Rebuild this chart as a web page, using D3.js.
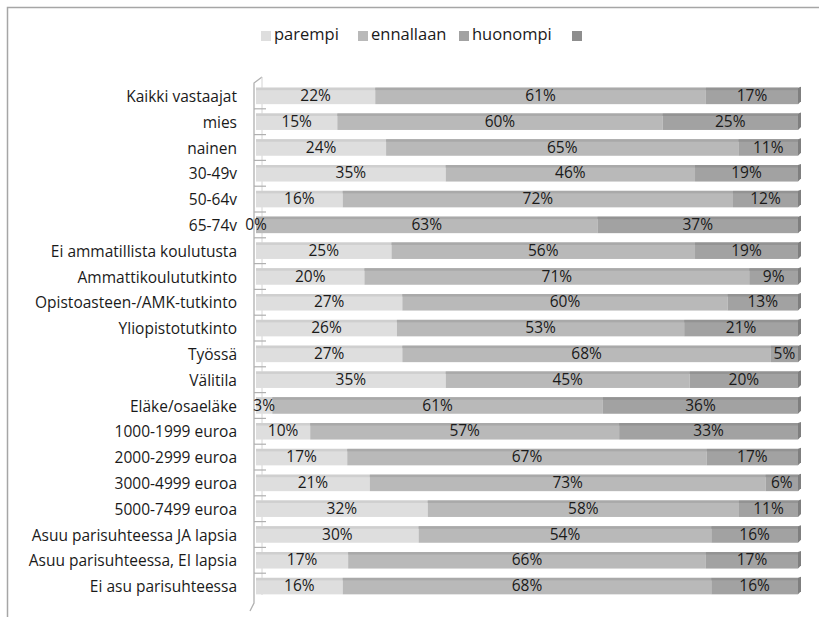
<!DOCTYPE html>
<html><head><meta charset="utf-8">
<script src="https://cdn.jsdelivr.net/npm/d3@7"></script>
<style>body{margin:0;background:#fff}svg{display:block}text{font-family:"Open Sans",sans-serif}</style>
</head><body><svg id="c" width="819" height="617"></svg>
<script>
const categories = ["Kaikki vastaajat","mies","nainen","30-49v","50-64v","65-74v","Ei ammatillista koulutusta","Ammattikoulututkinto","Opistoasteen-/AMK-tutkinto","Yliopistotutkinto","Työssä","Välitila","Eläke/osaeläke","1000-1999 euroa","2000-2999 euroa","3000-4999 euroa","5000-7499 euroa","Asuu parisuhteessa JA lapsia","Asuu parisuhteessa, EI lapsia","Ei asu parisuhteessa"];
const parempi  = [22,15,24,35,16,0,25,20,27,26,27,35,3,10,17,21,32,30,17,16];
const ennallaan= [61,60,65,46,72,63,56,71,60,53,68,45,61,57,67,73,58,54,66,68];
const huonompi = [17,25,11,19,12,37,19,9,13,21,5,20,36,33,17,6,11,16,17,16];
const seriesNames = ["parempi","ennallaan","huonompi",""];
const colors = ["#dedede","#b9b9b9","#a2a2a2","#8e8e8e"];
const topColors = ["#cfcfcf","#a9a9a9","#939393"];
const FS = 15.5;

const svg = d3.select("#c");
svg.append("rect").attr("x",7.5).attr("y",7.5).attr("width",830).attr("height",630)
  .attr("fill","none").attr("stroke","#a6a6a6").attr("stroke-width",1.5);

const x = d3.scaleLinear().domain([0,1]).range([256,798]);
const y = d3.scaleBand().domain(categories).range([83,599]).paddingInner(0.36).paddingOuter(0.18);

const rows = categories.map((c,i)=>{
  const vals=[parempi[i],ennallaan[i],huonompi[i]];
  const tot=d3.sum(vals);
  let acc=0;
  return vals.map((v,k)=>{const s={cat:c,k,v,x0:acc/tot,x1:(acc+v)/tot};acc+=v;return s;});
});

const wall = svg.append("g").attr("stroke","#b0b0b0").attr("fill","none");
const step = y.step();
const top0 = y(categories[0]) - (step - y.bandwidth())/2;
const bot0 = y(categories[categories.length-1]) + y.bandwidth() + (step - y.bandwidth())/2;
wall.append("path").attr("d",`M262,${top0-6} L254,${top0} L254,${bot0+4} L250,${bot0+12}`).attr("stroke-width",1.3);
wall.append("path").attr("d",`M262,${top0-6} L262,${bot0-4}`).attr("stroke","#d4d4d4");
categories.forEach((c,i)=>{
  const yb = y(c) - (step - y.bandwidth())/2;
  if(i>0) wall.append("path").attr("d",`M254,${yb} L266,${yb}`).attr("stroke-width",1.2);
});

const g = svg.append("g");
rows.forEach(segs=>{
  segs.forEach(s=>{
    if(s.v<=0) return;
    const yy=y(s.cat), h=y.bandwidth();
    g.append("rect").attr("x",x(s.x0)).attr("y",yy).attr("width",x(s.x1)-x(s.x0)).attr("height",h).attr("fill",colors[s.k]);
    g.append("rect").attr("x",x(s.x0)).attr("y",yy).attr("width",x(s.x1)-x(s.x0)).attr("height",2.5).attr("fill",topColors[s.k]);
  });
  const yy=y(segs[0].cat), h=y.bandwidth();
  g.append("path").attr("d",`M${x(1)},${yy} L${x(1)+3},${yy-1} L${x(1)+3},${yy+h-3} L${x(1)},${yy+h}Z`).attr("fill","#7f7f7f");
  segs.forEach(s=>{
    g.append("text").attr("x",(x(s.x0)+x(s.x1))/2).attr("y",y(s.cat)+y.bandwidth()/2+1)
      .attr("text-anchor","middle").attr("dominant-baseline","middle").attr("font-size",FS).attr("fill","#1a1a1a")
      .text(s.v+"%");
  });
});

svg.append("g").selectAll("text").data(categories).join("text")
  .attr("x",237).attr("y",d=>y(d)+y.bandwidth()/2+2).attr("text-anchor","end").attr("dominant-baseline","middle")
  .attr("font-size",FS).attr("fill","#1a1a1a").text(d=>d);

const lx=[261,358,459,572];
const leg = svg.append("g");
seriesNames.forEach((n,i)=>{
  leg.append("rect").attr("x",lx[i]).attr("y",31).attr("width",10).attr("height",10).attr("fill",colors[i]);
  leg.append("text").attr("x",lx[i]+13).attr("y",36).attr("dominant-baseline","middle").attr("font-size",16.5).attr("fill","#1a1a1a").text(n);
});
</script></body></html>
